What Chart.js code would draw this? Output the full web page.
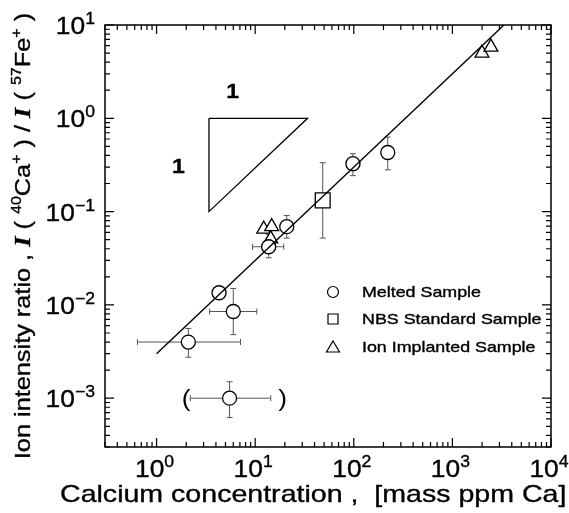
<!DOCTYPE html>
<html>
<head>
<meta charset="utf-8">
<script src="https://cdn.jsdelivr.net/npm/chart.js@4/dist/chart.umd.min.js"></script>
<style>
  html, body { margin: 0; padding: 0; background: #fff; }
  #wrap { width: 569px; height: 513px; }
</style>
</head>
<body>
<div id="wrap"><canvas id="mycanvas"></canvas></div>
<script>
// ---- data ----
var meltedX    = [5.5, 2.1, 4.3, 6.0, 13.7, 20.9, 98, 221];
var meltedY    = [0.001, 0.004, 0.0135, 0.0085, 0.042, 0.069, 0.326, 0.43];
var meltedXLo  = [2.2, 0.64, null, 3.45, 9.4, null, 85, null];
var meltedXHi  = [14.4, 7.1, null, 10.4, 19.5, null, 115, null];
var meltedYLo  = [0.00062, 0.00275, null, 0.0048, 0.032, 0.052, 0.243, 0.28];
var meltedYHi  = [0.0015, 0.0056, null, 0.015, 0.057, 0.091, 0.417, 0.63];

var nbsX   = [48.4];
var nbsY   = [0.132];
var nbsYLo = [0.052];
var nbsYHi = [0.334];

var ionX = [12.2, 14.7, 14.4, 1995, 2460];
var ionY = [0.065, 0.069, 0.051, 5.0, 5.8];

var fitX = [1.0, 3333];
var fitY = [0.003, 10];

var slopeX = [3.4, 34, 3.4, 3.4];
var slopeY = [1, 1, 0.1, 1];

var xTickVals = [1, 10, 100, 1000, 10000];
var xTickExp  = ['0', '1', '2', '3', '4'];
var yTickVals = [10, 1, 0.1, 0.01, 0.001];
var yTickExp  = ['1', '0', '-1', '-2', '-3'];

var legendLabels = ['Melted Sample', 'NBS Standard Sample', 'Ion Implanted Sample'];

function pts(xs, ys) {
  var out = [];
  for (var i in xs) out.push({x: xs[i], y: ys[i]});
  return out;
}

var FONT = '"Liberation Sans", Arial, Helvetica, sans-serif';
var SERIF = '"Liberation Serif", "Times New Roman", serif';

// draws a run of text pieces (with super offsets), horizontally stretched by sx
// the scanned original is heavy, so a thin stroke thickens the glyphs a bit
function drawParts(ctx, parts, x, y, align, sx, weight) {
  var total = 0;
  parts.forEach(function(p) {
    ctx.font = p.font;
    p.w = ctx.measureText(p.t).width * sx;
    total += p.w;
  });
  var cx = x;
  if (align === 'center') cx = x - total / 2;
  if (align === 'right') cx = x - total;
  ctx.textAlign = 'left';
  ctx.textBaseline = 'alphabetic';
  parts.forEach(function(p) {
    ctx.save();
    ctx.font = p.font;
    ctx.fillStyle = '#000';
    ctx.strokeStyle = '#000';
    ctx.lineWidth = weight == null ? 0.35 : weight;
    ctx.translate(cx, y + (p.dy || 0));
    ctx.scale(sx, 1);
    ctx.fillText(p.t, 0, 0);
    if (ctx.lineWidth > 0.01 && weight !== 0) ctx.strokeText(p.t, 0, 0);
    ctx.restore();
    cx += p.w;
  });
}

function powParts(exp) {
  return [
    {t: '10', font: '24px ' + FONT},
    {t: exp.replace('-', '\u2212'), font: '16px ' + FONT, dy: -10}
  ];
}

var errorBars = {
  id: 'errorBars',
  beforeDatasetsDraw: function(chart) {
    var ctx = chart.ctx, xs = chart.scales.x, ys = chart.scales.y;
    ctx.save();
    ctx.strokeStyle = '#555';
    ctx.lineWidth = 1;
    function bars(X, Y, XL, XH, YL, YH) {
      for (var i = 0; i < X.length; i++) {
        var px = xs.getPixelForValue(X[i]), py = ys.getPixelForValue(Y[i]);
        if (XL && XL[i] != null) {
          var a = xs.getPixelForValue(XL[i]), b = xs.getPixelForValue(XH[i]);
          ctx.beginPath();
          ctx.moveTo(a, py); ctx.lineTo(b, py);
          ctx.moveTo(a, py - 3); ctx.lineTo(a, py + 3);
          ctx.moveTo(b, py - 3); ctx.lineTo(b, py + 3);
          ctx.stroke();
        }
        if (YL && YL[i] != null) {
          var c = ys.getPixelForValue(YL[i]), d = ys.getPixelForValue(YH[i]);
          ctx.beginPath();
          ctx.moveTo(px, c); ctx.lineTo(px, d);
          ctx.moveTo(px - 3, c); ctx.lineTo(px + 3, c);
          ctx.moveTo(px - 3, d); ctx.lineTo(px + 3, d);
          ctx.stroke();
        }
      }
    }
    bars(meltedX, meltedY, meltedXLo, meltedXHi, meltedYLo, meltedYHi);
    bars(nbsX, nbsY, null, null, nbsYLo, nbsYHi);
    ctx.restore();
  }
};

var frameAndText = {
  id: 'frameAndText',
  afterDraw: function(chart) {
    var ctx = chart.ctx, xs = chart.scales.x, ys = chart.scales.y, a = chart.chartArea;
    ctx.save();
    ctx.strokeStyle = '#000';
    ctx.fillStyle = '#000';
    ctx.lineWidth = 1.5;
    ctx.strokeRect(a.left, a.top, a.right - a.left, a.bottom - a.top);

    // inward ticks on all four sides
    ctx.lineWidth = 1.2;
    ctx.beginPath();
    for (var k = -1; k <= 4; k++) {
      for (var m = 1; m <= 9; m++) {
        var v = m * Math.pow(10, k);
        if (v < xs.min || v > xs.max) continue;
        var px = xs.getPixelForValue(v), len = m === 1 ? 9 : 5;
        ctx.moveTo(px, a.bottom); ctx.lineTo(px, a.bottom - len);
        ctx.moveTo(px, a.top); ctx.lineTo(px, a.top + len);
      }
    }
    for (var k2 = -4; k2 <= 1; k2++) {
      for (var m2 = 1; m2 <= 9; m2++) {
        var w = m2 * Math.pow(10, k2);
        if (w < ys.min || w > ys.max) continue;
        var py = ys.getPixelForValue(w), len2 = m2 === 1 ? 9 : 5;
        ctx.moveTo(a.left, py); ctx.lineTo(a.left + len2, py);
        ctx.moveTo(a.right, py); ctx.lineTo(a.right - len2, py);
      }
    }
    ctx.stroke();

    // tick labels
    xTickVals.forEach(function(v, i) {
      drawParts(ctx, powParts(xTickExp[i]), xs.getPixelForValue(v) - 2, a.bottom + 30, 'center', 1.1);
    });
    yTickVals.forEach(function(v, i) {
      drawParts(ctx, powParts(yTickExp[i]), a.left - 10, ys.getPixelForValue(v) + 9, 'right', 1.1);
    });

    // axis titles
    drawParts(ctx, [{t: 'Calcium concentration ,  [mass ppm Ca]', font: '24px ' + FONT}], 60, 502, 'left', 1.19);

    ctx.save();
    ctx.translate(30, 236);
    ctx.rotate(-Math.PI / 2);
    var n = '22px ' + FONT, s = '14px ' + FONT, bi = 'italic bold 23px ' + SERIF;
    drawParts(ctx, [
      {t: 'Ion intensity ratio , ', font: n},
      {t: 'I', font: bi},
      {t: ' ( ', font: n},
      {t: '40', font: s, dy: -9},
      {t: 'Ca', font: n},
      {t: '+', font: s, dy: -9},
      {t: ' ) / ', font: n},
      {t: 'I', font: bi},
      {t: ' ( ', font: n},
      {t: '57', font: s, dy: -9},
      {t: 'Fe', font: n},
      {t: '+', font: s, dy: -9},
      {t: ' )', font: n}
    ], 0, 0, 'center', 1.15);
    ctx.restore();

    // slope triangle labels and brackets round the doubtful point
    drawParts(ctx, [{t: '1', font: 'bold 21px ' + FONT}], xs.getPixelForValue(5.9), ys.getPixelForValue(2.0) + 8, 'center', 1.1);
    drawParts(ctx, [{t: '1', font: 'bold 21px ' + FONT}], xs.getPixelForValue(1.67), ys.getPixelForValue(0.316) + 8, 'center', 1.1);
    drawParts(ctx, [{t: '(', font: '24px ' + FONT}], xs.getPixelForValue(2.0), ys.getPixelForValue(0.001) + 8, 'center', 1.1, 0);
    drawParts(ctx, [{t: ')', font: '24px ' + FONT}], xs.getPixelForValue(19.0), ys.getPixelForValue(0.001) + 8, 'center', 1.1, 0);

    // legend
    var lx = 333, ly = [292, 319, 347];
    ctx.lineWidth = 1.2;
    ctx.strokeStyle = '#000';
    ctx.fillStyle = '#fff';
    ctx.beginPath(); ctx.arc(lx, ly[0], 5.5, 0, Math.PI * 2); ctx.fill(); ctx.stroke();
    ctx.beginPath(); ctx.rect(lx - 5, ly[1] - 5, 10, 10); ctx.fill(); ctx.stroke();
    ctx.beginPath(); ctx.moveTo(lx, ly[2] - 6); ctx.lineTo(lx + 6.5, ly[2] + 5); ctx.lineTo(lx - 6.5, ly[2] + 5); ctx.closePath(); ctx.fill(); ctx.stroke();
    legendLabels.forEach(function(t, i) {
      drawParts(ctx, [{t: t, font: '14.5px ' + FONT}], 362, ly[i] + 5, 'left', 1.23);
    });
    ctx.restore();
  }
};

var chartdata = {
  datasets: [
    {
      label: 'fit',
      data: pts(fitX, fitY),
      showLine: true,
      borderColor: '#000',
      borderWidth: 1.4,
      pointRadius: 0,
      fill: false
    },
    {
      label: 'slope',
      data: pts(slopeX, slopeY),
      showLine: true,
      borderColor: '#000',
      borderWidth: 1.3,
      pointRadius: 0,
      fill: false
    },
    {
      label: 'Melted Sample',
      data: pts(meltedX, meltedY),
      pointStyle: 'circle',
      pointRadius: 7,
      backgroundColor: '#fff',
      borderColor: '#000',
      borderWidth: 1.3
    },
    {
      label: 'NBS Standard Sample',
      data: pts(nbsX, nbsY),
      pointStyle: 'rect',
      pointRadius: 10.5,
      backgroundColor: '#fff',
      borderColor: '#000',
      borderWidth: 1.3
    },
    {
      label: 'Ion Implanted Sample',
      data: pts(ionX, ionY),
      pointStyle: 'triangle',
      pointRadius: 8,
      backgroundColor: '#fff',
      borderColor: '#000',
      borderWidth: 1.3
    }
  ]
};

var ctx = document.getElementById('mycanvas');
new Chart(ctx, {
  type: 'scatter',
  data: chartdata,
  plugins: [errorBars, frameAndText],
  options: {
    responsive: true,
    maintainAspectRatio: false,
    animation: false,
    layout: { padding: { left: 105, top: 25, right: 18, bottom: 66 } },
    plugins: { legend: { display: false }, tooltip: { enabled: false } },
    scales: {
      x: { type: 'logarithmic', display: false, min: 0.3, max: 10000 },
      y: { type: 'logarithmic', display: false, min: 0.00031, max: 10 }
    }
  }
});
</script>
</body>
</html>
